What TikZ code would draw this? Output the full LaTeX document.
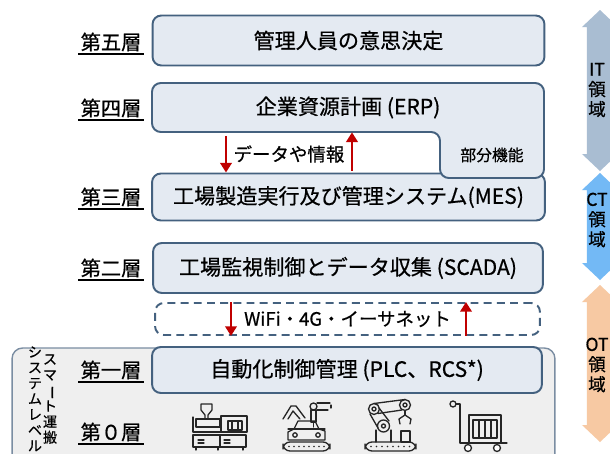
\documentclass[tikz,border=0pt]{standalone}
\usepackage{fontspec}
\usepackage{graphicx}
\setmainfont{Noto Sans CJK JP}[FakeBold=0.6]
\usetikzlibrary{arrows.meta, positioning}

\definecolor{boxline}{HTML}{44617F}
\definecolor{boxfill}{HTML}{E4EAF2}
\definecolor{flowred}{HTML}{C00000}
\definecolor{framefill}{HTML}{EFEFEF}
\definecolor{framedraw}{HTML}{7A8DA2}
\definecolor{itcol}{HTML}{A9BDD2}
\definecolor{ctcol}{HTML}{73B9F5}
\definecolor{otcol}{HTML}{F7C9A3}
\definecolor{iconline}{HTML}{262626}

% double headed block arrow: colour, top, bottom
\newcommand{\domarrow}[3]{%
    \fill[#1] (600,#2) -- (618,#2+17) -- (613,#2+17) -- (613,#3-17)
        -- (618,#3-17) -- (600,#3) -- (582,#3-17) -- (587,#3-17)
        -- (587,#2+17) -- (582,#2+17) -- cycle;}

\begin{document}
\begin{tikzpicture}[
        x=0.02cm, y=-0.02cm,
        layerbox/.style={draw=boxline, fill=boxfill, line width=1.1pt, rounded corners=5pt,
            inner sep=0pt, minimum width=7.84cm, font=\fontsize{12}{14}\selectfont},
        netbox/.style={draw=boxline, line width=1.1pt, dash pattern=on 4.5pt off 3pt,
            rounded corners=5pt, inner sep=0pt, minimum width=7.7cm, minimum height=0.64cm,
            font=\fontsize{10.5}{12}\selectfont},
        lvl/.style={inner sep=1.2pt, font=\fontsize{11.5}{13}\selectfont},
        uline/.style={line width=0.8pt},
        flow/.style={draw=flowred, line width=1.6pt, -{Triangle[length=5.5pt,width=6.5pt]}},
        note/.style={font=\fontsize{9}{10}\selectfont},
        vtext/.style={align=center, inner sep=0pt, font=\fontsize{8}{8.9}\selectfont},
        dom/.style={align=center, inner sep=0pt, font=\fontsize{10}{11.4}\selectfont},
        icon/.style={draw=iconline, line width=0.75pt, line cap=round, line join=round},
        sysframe/.style={draw=framedraw, fill=framefill, line width=0.8pt, rounded corners=6pt}
    ]

    \useasboundingbox (0,0) rectangle (610,454);
    \fill[white] (0,0) rectangle (610,454);

    % smart logistics frame behind layers 1 and 0
    \node[sysframe, minimum width=10.86cm, minimum height=2.44cm] (sys) at (283.5,409) {};

    % layers
    \node[layerbox, minimum height=1cm] (mgmt) at (348.5,40.5) {管理人員の意思決定};
    \node[layerbox, minimum width=7.86cm, minimum height=0.94cm] (mes) at (348.5,197) {工場製造実行及び管理システム(MES)};
    \filldraw[draw=boxline, fill=boxfill, line width=1.1pt, rounded corners=5pt]
        (152,83) -- (544,83) -- (544,178) -- (440,178) -- (440,132) -- (152,132) -- cycle;
    \node[inner sep=0pt, minimum width=7.84cm, minimum height=0.98cm,
        font=\fontsize{12}{14}\selectfont] (erp) at (348,107.5) {企業資源計画 (ERP)};
    \node[note] (part) at (492,155) {部分機能};
    \node[layerbox, minimum width=7.8cm, minimum height=1cm] (scada) at (348,268) {工場監視制御とデータ収集 (SCADA)};
    \node[netbox] (net) at (347.5,319) {WiFi・4G・イーサネット};
    \node[layerbox, minimum width=7.8cm, minimum height=0.92cm] (plc) at (347,370) {自動化制御管理 (PLC、RCS*)};

    % level names
    \foreach \nm/\txt/\yy in {l5/第五層/42, l4/第四層/108, l3/第三層/197,
                              l2/第二層/268, l1/第一層/370, l0/第０層/432} {
        \node[lvl] (\nm) at (111,\yy) {\txt};
        \draw[uline] (\nm.south west) -- (\nm.south east);
    }

    % data flow
    \coordinate (dnA) at (226,0);
    \coordinate (upA) at (352,0);
    \draw[flow, shorten <=2pt] (dnA |- erp.south) -- (dnA |- mes.north);
    \draw[flow, shorten <=1pt] (upA |- mes.north) -- (upA |- erp.south);
    \node[font=\fontsize{10.5}{12}\selectfont] (info) at (289,154) {データや情報};

    \coordinate (dnB) at (231,0);
    \coordinate (upB) at (466,0);
    \draw[flow] (dnB |- net.north) -- (dnB |- net.south);
    \draw[flow] (upB |- net.south) -- (upB |- net.north);

    % domains
    \domarrow{itcol}{10}{171}
    \domarrow{ctcol}{173}{280}
    \domarrow{otcol}{285}{442}
    \node[dom] (itlbl) at (597,90) {IT\\領\\域};
    \node[dom] (ctlbl) at (597,220) {CT\\領\\域};
    \node[dom] (otlbl) at (597,365) {OT\\領\\域};

    % vertical captions
    \node[vtext, anchor=north] (sysv) at (35,346) {シ\\ス\\テ\\ム\\レ\\ベ\\ル};
    \node[vtext, anchor=north] (smartv) at (50,354) {ス\\マ\\\rotatebox[origin=c]{-90}{ー}\\ト\\運\\搬};

    % injection moulding machine
    \draw[icon] (201,404) -- (212,404)
        (201,404) -- (201,410) -- (205,415) -- (205,419)
        (212,404) -- (212,410) -- (208,415) -- (208,419);
    \draw[icon] (193,417) -- (193,432) -- (221,432);
    \draw[icon] (196,419) rectangle (220,427);
    \draw[icon] (221,416) rectangle (247,432);
    \draw[icon] (228,421) rectangle (242,430);
    \draw[icon] (232,421) -- (232,430) (238,421) -- (238,430);
    \draw[icon] (193,435) rectangle (246,447);
    \draw[icon] (220,435) -- (220,447);
    \draw[icon] (198,440) -- (204,440) (198,443) -- (204,443)
        (224,440) -- (230,440) (224,443) -- (230,443);
    \draw[icon] (196,447) -- (196,450) (218,447) -- (218,450) (243,447) -- (243,450);

    % robot over car line
    \draw[icon, rounded corners=4pt] (283,442) rectangle (330,451);
    \foreach \i in {0,...,7}
        \fill[iconline] (289+\i*5,446.5) circle (0.8);
    \draw[icon] (288,440) -- (288,432) -- (294,429) -- (298,421) -- (315,421)
        -- (319,429) -- (325,431) -- (325,440) -- cycle;
    \draw[icon] (288,429) -- (325,429);
    \draw[icon] (295,435) circle (2.2) (318,435) circle (2.2);
    \draw[icon] (283,419) -- (291,406) -- (296,406) -- (305,418)
        (288,419) -- (293,411) -- (300,419);
    \draw[icon] (311,410) rectangle (316,422);
    \draw[icon] (313.5,422) -- (313.5,427);
    \draw[icon] (313.5,406.5) circle (3.5);
    \draw[icon] (317,403) -- (330,403) (317,410) -- (328,410);
    \draw[icon] (331,405) -- (331,408);

    % industrial robot arm
    \draw[icon, rounded corners=4pt] (365,442) rectangle (416,451);
    \foreach \i in {0,...,7}
        \fill[iconline] (371+\i*5.5,446.5) circle (0.8);
    \draw[icon] (376,442) -- (376,430) (391,442) -- (391,430);
    \draw[icon] (383.5,426) circle (6) (383.5,426) circle (2);
    \draw[icon] (370,414) -- (378,428) (379,408) -- (389,421);
    \draw[icon] (374,409) circle (5.5) (374,409) circle (2);
    \draw[icon] (374,403.5) -- (405,399.5) (378,413.5) -- (402,410);
    \draw[icon] (405,405) circle (5.5) (405,405) circle (2);
    \draw[icon] (405,410.5) -- (405,415);
    \draw[icon] (400,424) -- (399,419) -- (405,415) -- (411,419) -- (410,424);
    \draw[icon] (401,431) rectangle (410,442);

    % cart with crate
    \draw[icon] (453,404) circle (3);
    \draw[icon] (456,404) -- (460,404) -- (460,443) -- (507,443);
    \draw[icon] (469,415) rectangle (501,443);
    \draw[icon] (473,420) rectangle (497,438);
    \foreach \xx in {479,485,491}
        \draw[icon] (\xx,420) -- (\xx,438);
    \draw[icon, fill=white] (468,448) circle (3.5) (497,448) circle (3.5);

\end{tikzpicture}
\end{document}
